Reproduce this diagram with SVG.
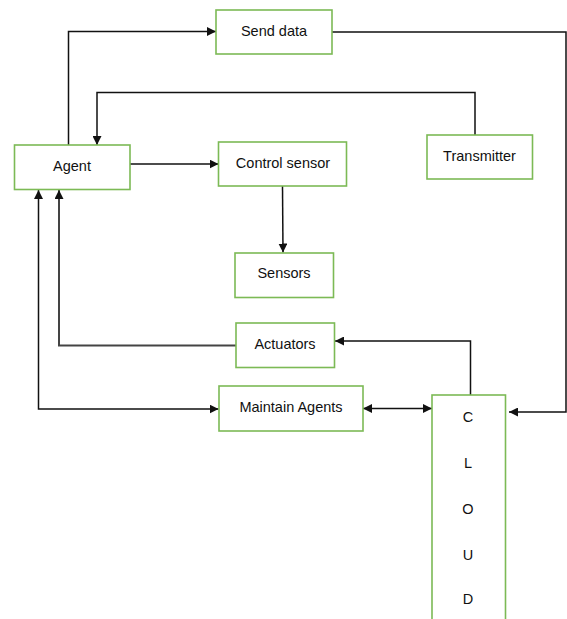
<svg xmlns="http://www.w3.org/2000/svg" width="567" height="619" viewBox="0 0 567 619">
<style>
.box{fill:#fff;stroke:#7cba55;stroke-width:1.6}
.lbl{font-family:"Liberation Sans",Arial,sans-serif;font-size:14.5px;fill:#111;text-anchor:middle;dominant-baseline:central}
.ln{fill:none;stroke:#111;stroke-width:1.5}
</style>
<defs>
<marker id="ah" viewBox="0 0 10 10" refX="10" refY="5" markerWidth="9" markerHeight="9" markerUnits="userSpaceOnUse" orient="auto-start-reverse">
<path d="M0,0 L10,5 L0,10 z" fill="#111"/>
</marker>
</defs>
<rect width="567" height="619" fill="#fff"/>
<g id="connectors">
<path class="ln" d="M68.5,145 V31.5 H216" marker-end="url(#ah)"/>
<path class="ln" d="M332,32 H566 V412 H509" marker-end="url(#ah)"/>
<path class="ln" d="M475,135 V92.5 H97 V145" marker-end="url(#ah)"/>
<path class="ln" d="M130,164 H218.5" marker-end="url(#ah)"/>
<path class="ln" d="M282.5,186 L283,252.5" marker-end="url(#ah)"/>
<path class="ln" d="M236,345.5 H59 V190" marker-end="url(#ah)" style="stroke:#444;stroke-width:2"/>
<path class="ln" d="M470.5,395 V341 H335" marker-end="url(#ah)"/>
<path class="ln" d="M38.5,190 V409 H218.5" marker-start="url(#ah)" marker-end="url(#ah)"/>
<path class="ln" d="M363,408.5 H432" marker-start="url(#ah)" marker-end="url(#ah)"/>
</g>
<g id="send-data"><rect class="box" x="216" y="10" width="116" height="44"/><text class="lbl" x="274" y="31">Send data</text></g>
<g id="transmitter"><rect class="box" x="427" y="135" width="105.5" height="44"/><text class="lbl" x="479.5" y="156">Transmitter</text></g>
<g id="agent"><rect class="box" x="14.5" y="145" width="115.5" height="44.5"/><text class="lbl" x="72" y="166">Agent</text></g>
<g id="control-sensor"><rect class="box" x="218.5" y="142" width="128" height="44"/><text class="lbl" x="283" y="163">Control sensor</text></g>
<g id="sensors"><rect class="box" x="235" y="253" width="98.5" height="44.5"/><text class="lbl" x="284" y="273">Sensors</text></g>
<g id="actuators"><rect class="box" x="236" y="323" width="98.5" height="44.5"/><text class="lbl" x="285" y="344">Actuators</text></g>
<g id="maintain-agents"><rect class="box" x="219" y="386" width="144" height="45"/><text class="lbl" x="291" y="407">Maintain Agents</text></g>
<g id="cloud"><rect class="box" x="432" y="395" width="73.5" height="225"/>
<text class="lbl" x="468" y="417">C</text>
<text class="lbl" x="468" y="463">L</text>
<text class="lbl" x="468" y="509">O</text>
<text class="lbl" x="468" y="555">U</text>
<text class="lbl" x="468" y="599">D</text>
</g>
</svg>
